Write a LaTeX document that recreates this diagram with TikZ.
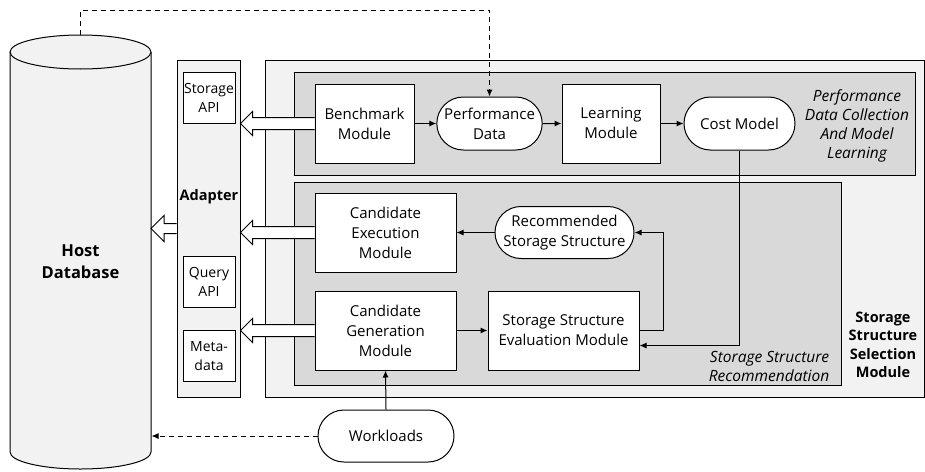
\documentclass[tikz,border=0pt]{standalone}
\usepackage{fontspec}
\setmainfont{Open Sans}
\usetikzlibrary{shapes,arrows,arrows.meta,positioning,calc}

\definecolor{paneLight}{HTML}{F2F2F2}
\definecolor{paneDark}{HTML}{D9D9D9}

\newcommand{\nodefont}{\fontsize{15}{20}\selectfont}

% hollow block arrow: start anchor, tip anchor, half shaft, half head, head length
\newcommand{\hollowarrow}[5]{%
  \draw[fill=white] let \p1=(#1), \p2=(#2) in
    (\x1,\y1+#3) -- (\x2+#5,\y1+#3) -- (\x2+#5,\y1+#4) -- (\x2,\y1)
    -- (\x2+#5,\y1-#4) -- (\x2+#5,\y1-#3) -- (\x1,\y1-#3);
}

\tikzset{
  module/.style={draw, fill=white, align=center, inner sep=2pt},
  datanode/.style={draw, fill=white, rounded rectangle, align=center, inner sep=2pt},
  apibox/.style={draw, fill=white, align=center, inner sep=1pt,
    minimum width=52, minimum height=51, font=\fontsize{14}{19}\selectfont},
}

\begin{document}
\begin{tikzpicture}[x=1pt, y=-1pt, line width=1pt, >={Latex[length=7pt,width=6pt]}, font=\nodefont]
\useasboundingbox (0,0) rectangle (925,471);

% Host database
\draw[fill=paneLight] (10,52) -- (10,452)
  arc[start angle=180, end angle=360, x radius=70.5pt, y radius=17pt] -- (151,52);
\draw[fill=paneLight] (80.5,52) ellipse[x radius=70.5pt, y radius=17pt];
\node[font=\fontsize{16.5}{22}\selectfont\bfseries, align=center] (host) at (80.5,262) {Host\\Database};
\coordinate (hosttop) at (80.5,35);
\coordinate (hostin) at (151,228);
\coordinate (hostload) at (151.5,436);

% Adapter
\node[draw, fill=paneLight, minimum width=63, minimum height=337, inner sep=0pt] (adapt) at (208.5,228.5) {};
\node[font=\fontsize{14.5}{19}\selectfont\bfseries] (adaptlbl) at (209,197) {Adapter};
\node[apibox] (storapi) at (209,97.5) {Storage\\API};
\node[apibox] (queryapi) at (209,281.5) {Query\\API};
\node[apibox] (metadata) at (209,356) {Meta-\\data};

% Selection module and its two parts
\draw[fill=paneLight] (265,60) rectangle (924,397);
\draw[fill=paneDark] (294,72) rectangle (915,175);
\draw[fill=paneDark] (294,182) rectangle (841,385);

\node[font=\fontsize{14.5}{18.5}\selectfont\bfseries, align=center] (sellbl) at (883,345) {Storage\\Structure\\Selection\\Module};
\node[font=\fontsize{15.5}{19}\selectfont\itshape, align=center] (perflbl) at (857,126) {Performance\\Data Collection\\And Model\\Learning};
\node[font=\fontsize{15.5}{19}\selectfont\itshape, align=right, anchor=east] (reclbl) at (833,366) {Storage Structure\\Recommendation};

% Performance data collection
\node[module, minimum width=99, minimum height=79] (bench) at (364.5,123.5) {Benchmark\\Module};
\node[datanode, minimum width=99, minimum height=53] (perf) at (489.5,123.5) {Performance\\Data};
\node[module, minimum width=98, minimum height=79] (learn) at (611,123.5) {Learning\\Module};
\node[datanode, minimum width=115, minimum height=53] (cost) at (739.5,123.5) {Cost Model};

% Storage structure recommendation
\node[module, minimum width=141, minimum height=79] (exec) at (385.5,232.5) {Candidate\\Execution\\Module};
\node[datanode, minimum width=143, minimum height=52] (rec) at (564.5,232.5) {Recommended\\Storage Structure};
\node[module, minimum width=141, minimum height=79] (gen) at (385.5,330.5) {Candidate\\Generation\\Module};
\node[module, minimum width=151, minimum height=79] (eval) at (563.5,330.5) {Storage Structure\\Evaluation Module};

\node[datanode, minimum width=140, minimum height=52] (work) at (386,436) {Workloads};

% Flow
\draw[->] (bench) -- (perf);
\draw[->] (perf) -- (learn);
\draw[->] (learn) -- (cost);
\draw[->] (rec) -- (exec);
\draw[->] (gen) -- (eval);
\draw[->] (eval.east) -- ++(24,0) |- (rec.east);
\draw[->] (cost.south) |- ($(eval.east)+(0,15)$);
\draw[->] (work.north) -- (gen.south);

% Dashed links to the host
\draw[dashed, dash pattern=on 5pt off 4pt, ->] (hosttop) -- (80.5,10) -| (perf.north);
\draw[dashed, dash pattern=on 5pt off 4pt, ->] (work.west) -- (hostload);

% Block arrows
\hollowarrow{bench.west}{adapt.east}{6pt}{12pt}{12pt}
\hollowarrow{exec.west}{adapt.east}{6pt}{12pt}{12pt}
\hollowarrow{gen.west}{adapt.east}{6pt}{12pt}{12pt}
\hollowarrow{adapt.west}{hostin}{5pt}{13pt}{13pt}

\end{tikzpicture}
\end{document}
